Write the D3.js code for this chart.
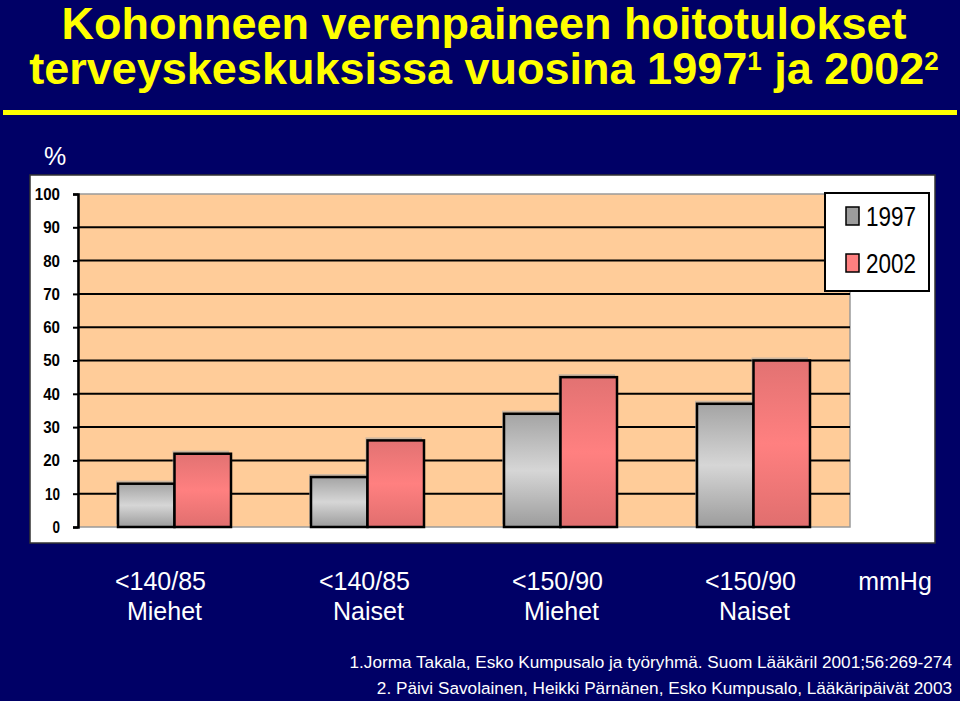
<!DOCTYPE html>
<html>
<head>
<meta charset="utf-8">
<script src="https://cdn.jsdelivr.net/npm/d3@7"></script>
<style>
  html, body { margin: 0; padding: 0; background: #000066; }
  svg { display: block; }
</style>
</head>
<body>
<svg id="chart" width="960" height="701"></svg>
<script>
// ---- data ----
const catLine1 = ["<140/85", "<140/85", "<150/90", "<150/90"];
const catLine2 = ["Miehet", "Naiset", "Miehet", "Naiset"];
const seriesNames = ["1997", "2002"];
const values1997 = [13, 15, 34, 37];
const values2002 = [22, 26, 45, 50];
const yTicks = [0, 10, 20, 30, 40, 50, 60, 70, 80, 90, 100];
const titleLine1 = "Kohonneen verenpaineen hoitotulokset";
const titleLine2 = ["terveyskeskuksissa vuosina 1997", "1", " ja 2002", "2"];
const unitLabel = "mmHg";
const yLabel = "%";
const footnotes = [
  "1.Jorma Takala, Esko Kumpusalo ja työryhmä. Suom Lääkäril 2001;56:269-274",
  "2. Päivi Savolainen, Heikki Pärnänen, Esko Kumpusalo, Lääkäripäivät 2003"
];

// ---- layout ----
const svg = d3.select("#chart");
const W = 960, H = 701;
const plot = { left: 78, right: 850, top: 194, bottom: 527 };
const FONT = "Liberation Sans, Arial, Helvetica, sans-serif";

svg.append("rect").attr("width", W).attr("height", H).attr("fill", "#000066");

// defs: gradients
const defs = svg.append("defs");
const gGray = defs.append("linearGradient").attr("id", "gradGray")
  .attr("x1", 0).attr("y1", 0).attr("x2", 0).attr("y2", 1);
gGray.append("stop").attr("offset", "0%").attr("stop-color", "#a4a4a4");
gGray.append("stop").attr("offset", "50%").attr("stop-color", "#d6d6d6");
gGray.append("stop").attr("offset", "100%").attr("stop-color", "#9c9c9c");
const gRed = defs.append("linearGradient").attr("id", "gradRed")
  .attr("x1", 0).attr("y1", 0).attr("x2", 0).attr("y2", 1);
gRed.append("stop").attr("offset", "0%").attr("stop-color", "#e27272");
gRed.append("stop").attr("offset", "50%").attr("stop-color", "#ff8080");
gRed.append("stop").attr("offset", "100%").attr("stop-color", "#e06e6e");

// title
svg.append("text")
  .attr("x", 484).attr("y", 39).attr("text-anchor", "middle")
  .attr("font-family", FONT).attr("font-weight", "bold").attr("font-size", 45)
  .attr("fill", "#ffff00").text(titleLine1);
const title2 = svg.append("text")
  .attr("x", 484).attr("y", 84).attr("text-anchor", "middle")
  .attr("font-family", FONT).attr("font-weight", "bold").attr("font-size", 45)
  .attr("fill", "#ffff00");
title2.append("tspan").text(titleLine2[0]);
title2.append("tspan").attr("font-size", 26).attr("dy", -14).text(titleLine2[1]);
title2.append("tspan").attr("dy", 14).text(titleLine2[2]);
title2.append("tspan").attr("font-size", 26).attr("dy", -14).text(titleLine2[3]);

// yellow rule
svg.append("rect").attr("x", 3).attr("y", 110).attr("width", 954).attr("height", 5).attr("fill", "#ffff00");

// % label
svg.append("text").attr("x", 44).attr("y", 165)
  .attr("font-family", FONT).attr("font-size", 25).attr("fill", "#ffffff").text(yLabel);

// white chart area
svg.append("rect").attr("x", 30).attr("y", 175).attr("width", 905).attr("height", 368)
  .attr("fill", "#ffffff").attr("stroke", "#333").attr("stroke-width", 1.5);

// scales
const x0 = d3.scaleBand().domain(d3.range(catLine1.length))
  .range([plot.left, plot.right]).paddingInner(0.4145).paddingOuter(0.4145 / 2);
const x1 = d3.scaleBand().domain(seriesNames).range([0, x0.bandwidth()]);
const y = d3.scaleLinear().domain([0, 100]).range([plot.bottom, plot.top]);

// plot area background
svg.append("rect").attr("x", plot.left).attr("y", plot.top)
  .attr("width", plot.right - plot.left).attr("height", plot.bottom - plot.top)
  .attr("fill", "#ffcc99").attr("stroke", "#9a9a9a").attr("stroke-width", 1.5);

// gridlines
svg.append("g").selectAll("line")
  .data(yTicks.filter(d => d > 0 && d < 100))
  .join("line")
  .attr("x1", plot.left).attr("x2", plot.right)
  .attr("y1", d => y(d)).attr("y2", d => y(d))
  .attr("stroke", "#000").attr("stroke-width", 2);

// y axis
const yAxis = svg.append("g").attr("transform", `translate(${plot.left},0)`)
  .call(d3.axisLeft(y).tickValues(yTicks).tickSize(5).tickPadding(13).tickFormat(d3.format("d")));
yAxis.select(".domain").attr("stroke", "#000").attr("stroke-width", 2.5);
yAxis.selectAll(".tick line").attr("stroke", "#000").attr("stroke-width", 2);
yAxis.selectAll(".tick text")
  .attr("font-family", FONT).attr("font-weight", "bold").attr("font-size", 17).attr("fill", "#000")
  .attr("textLength", d => String(d).length === 1 ? 7.5 : (d === 10 ? 15 : String(d).length * 8.4))
  .attr("lengthAdjust", "spacingAndGlyphs");

// bars
const rows = catLine1.map((c, i) => ({ i, vals: [
  { s: seriesNames[0], v: values1997[i], fill: "url(#gradGray)" },
  { s: seriesNames[1], v: values2002[i], fill: "url(#gradRed)" }
]}));
const groups = svg.append("g").selectAll("g").data(rows).join("g")
  .attr("transform", d => `translate(${x0(d.i)},0)`);
groups.selectAll("rect.shadow").data(d => d.vals).join("rect").attr("class", "shadow")
  .attr("x", d => x1(d.s) - 2).attr("y", d => y(d.v) - 3)
  .attr("width", x1.bandwidth()).attr("height", d => y(0) - y(d.v))
  .attr("fill", "#a8a8a8").attr("opacity", 0.6);
groups.selectAll("rect.bar").data(d => d.vals).join("rect").attr("class", "bar")
  .attr("x", d => x1(d.s)).attr("y", d => y(d.v))
  .attr("width", x1.bandwidth()).attr("height", d => y(0) - y(d.v))
  .attr("fill", d => d.fill).attr("stroke", "#000").attr("stroke-width", 2.5);

// legend
const lg = svg.append("g");
lg.append("rect").attr("x", 825).attr("y", 193).attr("width", 104).attr("height", 98)
  .attr("fill", "#fff").attr("stroke", "#000").attr("stroke-width", 2);
const legendFills = ["#9c9c9c", "#ff8080"];
seriesNames.forEach((s, k) => {
  const yy = 207 + k * 47;
  lg.append("rect").attr("x", 846).attr("y", yy).attr("width", 13).attr("height", 18)
    .attr("fill", legendFills[k]).attr("stroke", "#000").attr("stroke-width", 1.5);
  lg.append("text").attr("x", 866).attr("y", yy + 19)
    .attr("font-family", FONT).attr("font-size", 27).attr("fill", "#000")
    .attr("textLength", 50).attr("lengthAdjust", "spacingAndGlyphs").text(s);
});

// category labels
const catG = svg.append("g")
  .attr("font-family", FONT).attr("font-size", 25).attr("fill", "#fff").attr("text-anchor", "middle");
catG.selectAll("text").data(d3.range(catLine1.length)).join("text")
  .each(function(i) {
    const t = d3.select(this);
    const cx = x0(i) + x0.bandwidth() / 2;
    const off = i === 0 ? -14 : -3;
    t.append("tspan").attr("x", cx + off).attr("y", 590).text(catLine1[i]);
    t.append("tspan").attr("x", cx + off + 4).attr("y", 620).text(catLine2[i]);
  });
svg.append("text").attr("x", 895).attr("y", 590).attr("text-anchor", "middle")
  .attr("font-family", FONT).attr("font-size", 25).attr("fill", "#fff").text(unitLabel);

// footnotes
svg.append("g").selectAll("text").data(footnotes).join("text")
  .attr("x", 952).attr("y", (d, i) => 668 + i * 26).attr("text-anchor", "end")
  .attr("font-family", FONT).attr("font-size", 17.2).attr("fill", "#fff").text(d => d);
</script>
</body>
</html>
